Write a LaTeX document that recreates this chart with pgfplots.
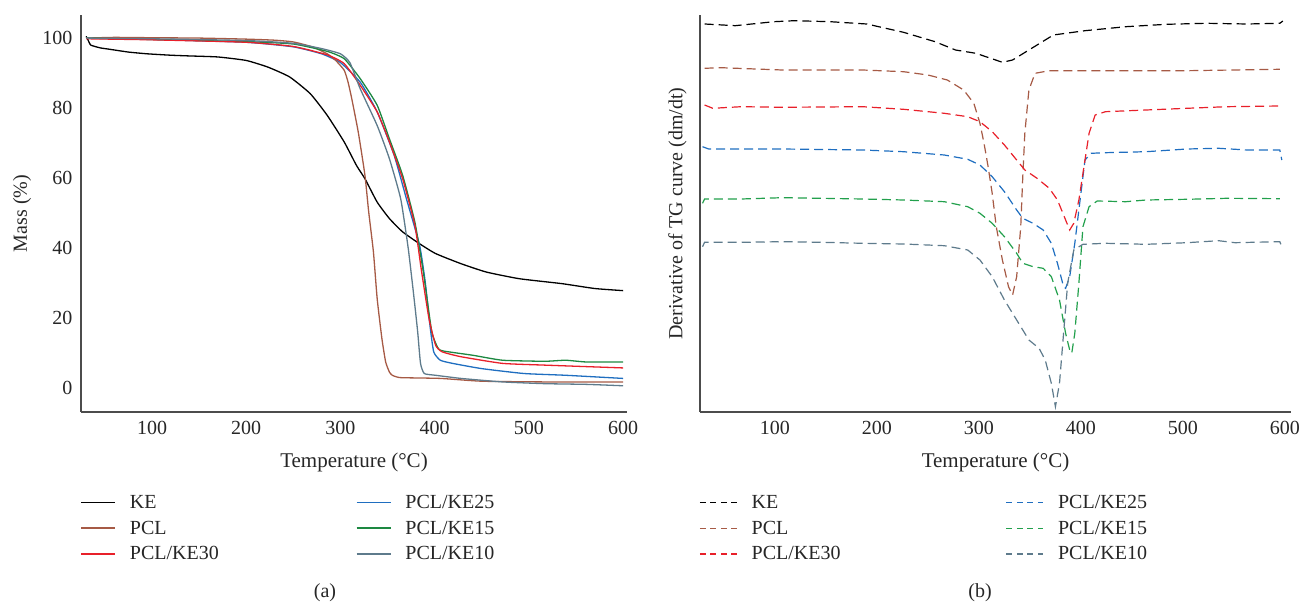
\documentclass[border=0pt]{standalone}
\usepackage{fontspec}
\setmainfont{Liberation Serif}
\usepackage{pgfplots}
\pgfplotsset{compat=1.18}
\definecolor{cKE}{HTML}{000000}
\definecolor{cPCL}{HTML}{A65A45}
\definecolor{c30}{HTML}{E8202A}
\definecolor{c25}{HTML}{1F6EC0}
\definecolor{c15}{HTML}{22A04C}
\definecolor{c10}{HTML}{5E7B8C}
\newcommand{\fs}{\fontsize{20}{24}\selectfont}
\pgfplotsset{
  tgbase/.style={
    scale only axis, height=397pt,
    axis x line*=bottom, axis y line*=left,
    axis line style={line width=1.5pt, color=black!70},
    major tick length=0pt,
    tick label style={font=\fs, color=black!85},
    xticklabel style={yshift=-6pt},
    yticklabel style={xshift=-5pt},
    label style={font=\fs, color=black!85},
    /pgf/number format/assume math mode=true,
    xtick={100,200,300,400,500,600},
    xlabel={Temperature (°C)},
    xlabel style={at={(axis description cs:0.5,0)}, anchor=north, yshift=-37pt, font=\fontsize{21}{24}\selectfont},
    legend columns=2, legend cell align=left,
    legend style={draw=none, fill=none, font=\fs, text=black!85,
      at={(axis description cs:0,0)}, anchor=north west,
      row sep=7pt,
      /tikz/every odd column/.append style={column sep=12pt}},
  },
}
\begin{document}
\begin{tikzpicture}
\path[use as bounding box] (0,0) rectangle (1301pt,605pt);
% ---------------- (a) ----------------
\begin{axis}[tgbase,
  at={(81pt,193pt)}, anchor=south west, width=546pt,
  xmin=24.6, xmax=604.2, ymin=-6.9, ymax=106.6,
  ytick={0,20,40,60,80,100},
  ylabel={Mass (\%)},
  ylabel style={at={(axis description cs:-0.108,0.5)}, anchor=center, rotate=0},
  legend style={xshift=-4pt, yshift=-79pt,
    /tikz/column 2/.style={column sep=135pt}},
  legend image code/.code={\draw[#1, line width=1.7pt] (0pt,0pt) -- (34pt,0pt);},
  every axis plot/.append style={line width=1.3pt, smooth, tension=0.3},
]
\addplot[cKE] coordinates {(30,100.5) (32,99.5) (35,98) (45,97.2) (55,96.8) (75,96) (95,95.5) (120,95.1) (139,94.9) (170,94.6) (200,93.6) (223,91.7) (246,88.9) (268,84.1) (286,77.9) (304,70.3) (317,63.6) (326,59.8) (339,53.1) (352,48.4) (366,44.6) (384,41.2) (401,38.4) (428,35.5) (455,33.1) (490,31.2) (535,29.8) (570,28.4) (600,27.8)};
\addlegendentry{KE}
\addplot[c25] coordinates {(30,100) (100,99.6) (200,98.8) (250,97.5) (280,95.5) (300,93) (321,87.4) (339,78.9) (357,66.5) (370,54.1) (384,40.8) (390,30.3) (395,17.9) (399,10.3) (406,7.9) (419,7) (450,5.5) (495,4.1) (539,3.6) (600,2.7)};
\addlegendentry{PCL/KE25}
\addplot[cPCL] coordinates {(30,100) (60,100.2) (100,100.1) (150,100) (200,99.7) (230,99.4) (250,98.9) (270,97.5) (286,95.5) (295,93.6) (304,90.8) (308,87.5) (312,82.7) (319,73) (326,60.8) (330,50.3) (335,38.9) (339,25.5) (344,14.1) (348,7.4) (352,4.5) (355,3.6) (360,3.1) (366,2.9) (406,2.7) (450,1.9) (517,1.7) (600,1.7)};
\addlegendentry{PCL}
\addplot[c15!85!black] coordinates {(30,100) (100,99.6) (200,99) (250,98.3) (286,96.2) (304,94.1) (321,88.4) (339,80.8) (352,71.2) (366,60.8) (379,47.4) (388,33.1) (397,16) (404,11.2) (410,10.5) (441,9.3) (472,7.9) (517,7.6) (539,7.9) (561,7.4) (600,7.4)};
\addlegendentry{PCL/KE15}
\addplot[c30] coordinates {(30,99.8) (100,99.5) (200,98.8) (250,97.6) (286,95.2) (304,92.7) (321,86.5) (339,78.9) (352,70.3) (366,59.8) (379,46.5) (386,33.5) (394,19.8) (401,12.2) (408,10.3) (428,8.9) (472,7) (517,6.5) (600,5.7)};
\addlegendentry{PCL/KE30}
\addplot[c10] coordinates {(30,100) (100,99.8) (200,99.3) (250,98.5) (280,97) (300,95.5) (310,93) (321,85.5) (339,75) (352,65.5) (364,54) (372,39.8) (378,26) (382,16) (385,7) (389,4.1) (401,3.6) (428,2.7) (472,1.7) (517,1.2) (561,1) (600,0.6)};
\addlegendentry{PCL/KE10}
\end{axis}
\node[font=\fs, text=black!85] at (325pt,12pt) {(a)};
% ---------------- (b) ----------------
\begin{axis}[tgbase,
  at={(700pt,193pt)}, anchor=south west, width=591pt,
  xmin=26.5, xmax=606, ymin=0, ymax=397,
  ytick=\empty,
  ylabel={Derivative of TG curve (dm/dt)},
  ylabel style={at={(axis description cs:-0.038,0.5)}, anchor=center},
  legend style={xshift=-4pt, yshift=-79pt,
    /tikz/column 2/.style={column sep=163pt}},
  legend image code/.code={\draw[#1, line width=1.5pt, dash pattern=on 6pt off 4.5pt] (0pt,0pt) -- (37pt,0pt);},
  every axis plot/.append style={line width=1.2pt, dash pattern=on 9pt off 5pt},
]
\addplot[cKE] coordinates {(31,388) (61,386.3) (99,390.3) (119,391.3) (154,390.3) (190,388) (226,379.7) (257,370.3) (277,362) (297,358.7) (323,349.7) (333,352) (357,367) (373,377) (404,381.3) (444,385.3) (484,387.7) (523,388.7) (563,388) (595,388.7) (598,391)};
\addlegendentry{KE}
\addplot[c25] coordinates {(29,265.3) (35,263) (67,263) (107,263) (186,262) (226,260.3) (266,257) (289,252.7) (301,247) (313,235.3) (325,220.3) (337,202) (343,193.7) (353,188.7) (363,182) (371,168.7) (377,148.7) (383,125.3) (385,123.7) (389,135.3) (394,168.7) (400,218.7) (404,252) (410,258.7) (424,259.3) (464,260.3) (504,263) (535,263.7) (563,262) (595,262) (597,252)};
\addlegendentry{PCL/KE25}
\addplot[cPCL] coordinates {(31,343.7) (47,344.3) (107,342) (186,342) (226,340.3) (250,337) (269,332) (285,322) (295,308.7) (301,288.7) (305,268.7) (309,245.3) (313,218.7) (317,185.3) (323,152) (329,125.3) (333,117) (337,135.3) (341,185.3) (343,235.3) (345,278.7) (349,322) (355,338.7) (369,341.3) (424,341.3) (504,341.3) (595,342.7)};
\addlegendentry{PCL}
\addplot[c15] coordinates {(29,208.7) (31,213) (67,213) (107,214.3) (146,213.7) (186,213) (226,212) (266,210.3) (289,205.3) (301,198.7) (313,188.7) (325,175.3) (337,158.7) (343,148.7) (353,145.3) (363,143.7) (371,135.3) (379,112) (385,78.7) (389,62) (391,58.7) (394,78.7) (398,128.7) (402,185.3) (408,205.3) (416,211) (444,210.3) (464,212) (504,212.7) (543,213.7) (595,213.3)};
\addlegendentry{PCL/KE15}
\addplot[c30] coordinates {(31,307) (39,303.7) (67,305.3) (107,304.7) (186,305.3) (226,302.7) (266,298.7) (289,295.3) (301,290.3) (313,280.3) (325,267) (337,252) (345,242) (357,233.7) (369,223.7) (377,212) (385,192) (389,182) (393,188.7) (398,212) (404,252) (408,278.7) (414,297) (424,300.3) (464,302) (504,303.7) (543,305.3) (595,306)};
\addlegendentry{PCL/KE30}
\addplot[c10] coordinates {(29,165.3) (31,169.7) (67,169.7) (107,170.3) (146,169.7) (186,168.7) (226,168) (266,166.3) (289,162) (301,152) (313,135.3) (325,112) (337,92) (349,72) (359,63.7) (365,52) (371,28.7) (375,5.3) (379,28.7) (383,78.7) (387,128.7) (393,162) (402,167.7) (424,168.7) (464,167.7) (504,169.3) (535,171.3) (551,169.3) (595,170.3) (597,165.3)};
\addlegendentry{PCL/KE10}
\end{axis}
\node[font=\fs, text=black!85] at (980pt,12pt) {(b)};
\end{tikzpicture}
\end{document}
